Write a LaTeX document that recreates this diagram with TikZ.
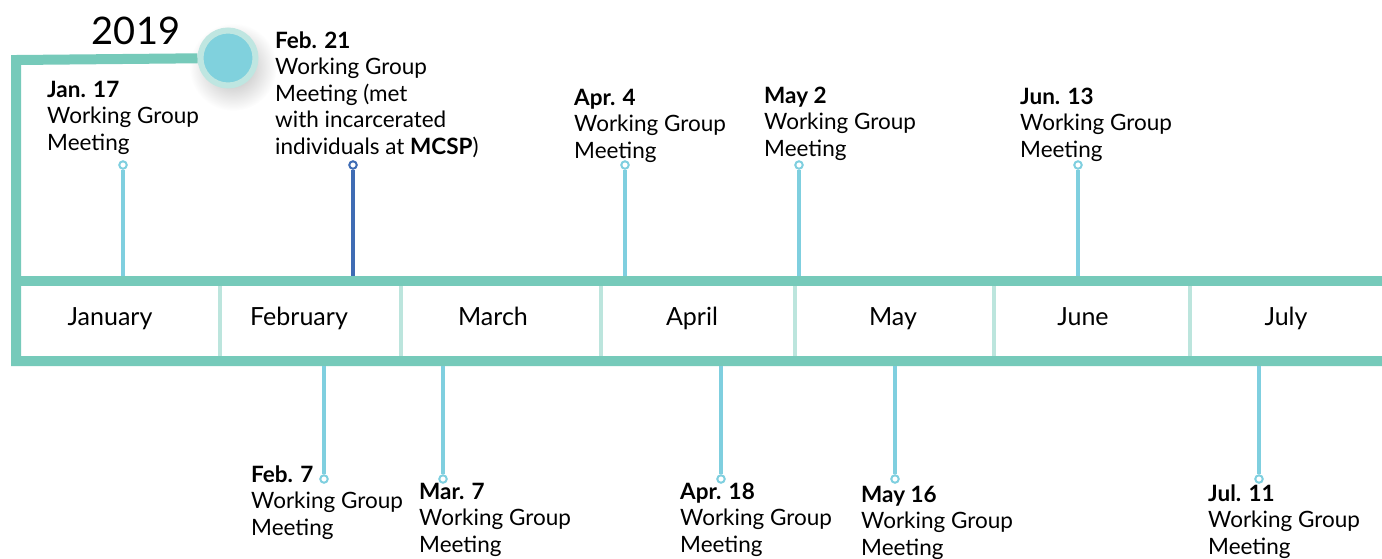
\documentclass[tikz,border=0pt]{standalone}
\usepackage{fontspec}
\setmainfont{Lato}
\definecolor{tlgreen}{HTML}{76CABA}
\definecolor{tlsep}{HTML}{BCE5DD}
\definecolor{tlstem}{HTML}{7FCFDF}
\definecolor{tldark}{HTML}{3F6CB4}
\definecolor{tlring}{HTML}{BFE6E1}
\definecolor{tlfill}{HTML}{80D1DD}
\tikzset{
  framel/.style = {tlgreen, line width=10pt, line join=miter},
  sepl/.style = {tlsep, line width=3.5pt},
  month/.style = {font=\fontsize{25}{28}\selectfont, anchor=base, inner sep=0pt},
  event/.style = {font=\fontsize{22.5}{26.5}\selectfont, align=left, anchor=base west, inner sep=0pt},
  pin/.style = {circle, draw=#1, fill=white, line width=2pt, minimum size=7.5pt, inner sep=0pt},
  pin/.default = tlstem,
  stemline/.style = {#1, line width=4pt},
  stemline/.default = tlstem
}

\begin{document}
\begin{tikzpicture}[x=1pt, y=-1pt]
\useasboundingbox (0,0) rectangle (1382,558);

% year marker
\shade[inner color=black!30, outer color=white] (233,67) circle (44pt);
\path (228,58) node[circle, fill=tlfill, draw=tlring, line width=6pt, minimum size=55pt, inner sep=0pt] (Yr) {};
\path (136,31) node[font=\fontsize{38}{40}\selectfont, inner sep=0pt] (Year) {2019};

% frame and month bar
\coordinate (TL) at (16,60);
\coordinate (BL) at (16,361);
\coordinate (BR) at (1382,361);
\coordinate (ML) at (16,281);
\coordinate (MR) at (1382,281);
\draw[framel] (Yr) -- (TL) -- (BL) -- (BR);
\draw[framel] (ML) -- (MR);
\draw[sepl] (220,286) -- (220,356);
\draw[sepl] (401,286) -- (401,356);
\draw[sepl] (601,286) -- (601,356);
\draw[sepl] (795,286) -- (795,356);
\draw[sepl] (994,286) -- (994,356);
\draw[sepl] (1190,286) -- (1190,356);

\path (110,325) node[month] (Jan) {January};
\path (299,325) node[month] (Feb) {February};
\path (493,325) node[month] (Mar) {March};
\path (692,325) node[month] (Apr) {April};
\path (893,325) node[month] (May) {May};
\path (1083,325) node[month] (Jun) {June};
\path (1286,325) node[month] (Jul) {July};

% meetings above the bar (label placed by its last baseline)
\path (123,165) node[pin] (P1) {};
\path (353,165) node[pin=tldark] (P2) {};
\path (625,165) node[pin] (P3) {};
\path (799,165) node[pin] (P4) {};
\path (1078,165) node[pin] (P5) {};
\coordinate (B1) at (123,276);
\coordinate (B2) at (353,276);
\coordinate (B3) at (625,276);
\coordinate (B4) at (799,276);
\coordinate (B5) at (1078,276);
\draw[stemline] (P1) -- (B1);
\draw[stemline=tldark] (P2) -- (B2);
\draw[stemline] (P3) -- (B3);
\draw[stemline] (P4) -- (B4);
\draw[stemline] (P5) -- (B5);

\path (47,150) node[event] (L1) {\textbf{Jan. 17}\\Working Group\\Meeting};
\path (275,154) node[event] (L2) {\textbf{Feb. 21}\\Working Group\\Meeting (met\\with incarcerated\\individuals at \textbf{MCSP})};
\path (574,158) node[event] (L3) {\textbf{Apr. 4}\\Working Group\\Meeting};
\path (764,156) node[event] (L4) {\textbf{May 2}\\Working Group\\Meeting};
\path (1020,157) node[event] (L5) {\textbf{Jun. 13}\\Working Group\\Meeting};

% meetings below the bar
\path (324,479) node[pin] (P6) {};
\path (443,479) node[pin] (P7) {};
\path (721,479) node[pin] (P8) {};
\path (895,479) node[pin] (P9) {};
\path (1259,479) node[pin] (P10) {};
\coordinate (B6) at (324,366);
\coordinate (B7) at (443,366);
\coordinate (B8) at (721,366);
\coordinate (B9) at (895,366);
\coordinate (B10) at (1259,366);
\draw[stemline] (P6) -- (B6);
\draw[stemline] (P7) -- (B7);
\draw[stemline] (P8) -- (B8);
\draw[stemline] (P9) -- (B9);
\draw[stemline] (P10) -- (B10);

\path (251,535) node[event] (L6) {\textbf{Feb. 7}\\Working Group\\Meeting};
\path (419,552) node[event] (L7) {\textbf{Mar. 7}\\Working Group\\Meeting};
\path (680,552) node[event] (L8) {\textbf{Apr. 18}\\Working Group\\Meeting};
\path (861,555) node[event] (L9) {\textbf{May 16}\\Working Group\\Meeting};
\path (1208,554) node[event] (L10) {\textbf{Jul. 11}\\Working Group\\Meeting};
\end{tikzpicture}
\end{document}
